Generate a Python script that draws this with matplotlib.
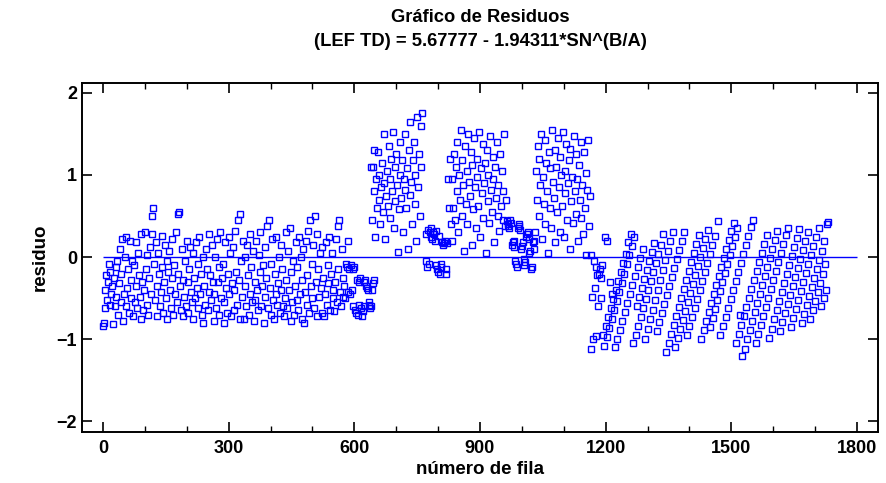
import numpy as np
import matplotlib
matplotlib.use("Agg")
import matplotlib.pyplot as plt
from matplotlib.ticker import MultipleLocator

# residuals in hundredths, every second row
# (start row of each block, values)
start_a = 0
resid_a = [
    -84, -80, -40, -62, -22, -52, -30, -8, -58, -18, -45, -35,
    -81, -25, -60, -12, -48, -5, -70, -32, 10, -55, -20, 22,
    -78, -45, 0, -60, 25, -38, -15, -68, 20, -50, -28, -5,
    -72, -10, -55, 18, -35, -62, 5, -22, -48, 28, -75, -30,
    -65, -40, 30, -15, -58, 2, -70, -25, 12, -45, 50, 28,
    60, -8, -52, 18, -35, -72, 5, -20, -60, -42, 26, -12,
    -68, -30, 15, -50, -5, -75, -18, 8, -40, -62, 22, -25,
    -70, -10, -45, 30, -55, 52, -20, 55, -35, -65, 10, -28,
    -72, -48, -5, -60, 20, -30, -68, -15, 12, -42, -55, 5,
    -75, -25, -50, 18, -38, -62, -8, 25, -45, -20, -70, 0,
    -80, -35, -58, 10, -15, -65, 28, -42, -22, -52, 15, -30,
    -78, -45, 0, -62, 22, -30, -70, -12, 30, -50, -25, -8,
    -80, -55, 18, -38, -68, -20, 25, -45, 5, -72, -32, 12,
    -65, -40, 32, -18, -58, 45, -28, 52, -75, -5, -48, 20,
    -76, -35, 0, -60, 15, -22, -70, -45, 28, -12, -55, 8,
    -78, -30, -52, 20, -40, -65, 2, -18, 30, -60, -35, -10,
    -80, -48, 12, -25, 38, -62, 45, -38, -8, -70, 22, -52,
    -75, -20, -45, 25, -58, -32, 0, -68, 15, -40, -15, -60,
    -72, -50, 30, -28, -62, 8, -40, 35, -78, -18, -55, -5,
    -70, -35, 18, -52, -12, -65, 25, -45, 0, -75, -28, 10,
    -80, -42, 20, -58, -22, 32, -68, 45, -35, -8, -50, 15,
    -62, 50, -30, 28, -72, -15, -48, 5, -38, -68, 12, -25,
    -72, -45, 18, -58, -10, -32, 25, -65, -20, 5, -50, -40,
    -66, -30, 22, -55, 38, -15, 45, -42, -60, 10, -25, -48,
    -35, -50,
]

start_b = 580
resid_b = [
    -8, -12, 20, -43, -15, -45, -10, -40, -14, -60, -12, -65,
    -68, -28, -70, -30, -58, -25, -62, -72, -66, -60, -30, -28,
    -35, -38, -40, -55, -58, -62, -60, -40, -32, -28,
]

start_c = 640
resid_c = [
    110, 45, 110, 80, 130, 25, 95, 60, 128, 70, 100, 40, 85,
    115, 55, 150, 90, 22, 75, 105, 62, 135, 48, 95, 120,
    80, 152, 35, 110, 68, 125, 88, 6, 58, 100, 140, 72,
    118, 30, 95, 82, 150, 60, 108, 10, 130, 76, 165, 92,
    40, 118, 140, 65, 100, 20, 170, 85, 125, 50, 160, 110, 176,
]

start_d = 770
resid_d = [
    -5, 28, -12, 33, -8, 30, 25, 35, 22, 30, 28, 20,
    -10, 32, -15, -18, 26, -20, -12, -8, 18, 15, 17, 20,
    -14, -20, 17, 95, 60, 120, 40,
]

start_e = 832
resid_e = [
    20, 95, 60, 125, 45, 110, 80, 140, 30, 100, 70, 155,
    50, 118, 88, 8, 135, 65, 105, 40, 150, 92, 75, 128,
    15, 112, 58, 145, 85, 35, 120, 98, 62, 152, 25, 108,
    78, 138, 48, 90, 115, 5, 130, 68, 100, 42, 148, 82,
    55, 122, 95, 18, 110, 72, 140, 50, 88, 32, 125, 62,
    105, 45, 80, 150, 38, 70,
]

start_f = 964
resid_f = [
    44, 40, 38, 35, 45, 42, 15, 18, 12, 20, -5, -8,
    -12, 35, 38, 40, 33, 10, 14, 18, -2, -10, -6, 25,
    28, 30, 22, 5, 8, -15, -12, 18, 20, 10,
]

start_g = 1032
resid_g = [
    30, 105, 70, 135, 50, 120, 88, 150, 22, 98, 65, 142,
    40, 115, 80, 5, 128, 60, 108, 35, 155, 92, 72, 130,
    18, 110, 55, 145, 85, 30, 122, 100, 62, 152, 25, 105,
    78, 138, 45, 90, 118, 10, 132, 68, 98, 42, 148, 80,
    52, 125, 95, 20, 112, 70, 140, 48, 88, 28, 128, 60,
    102, 3, 82, 142, 38, 75,
]

start_h = 1164
resid_h = [
    -112, 2, -48, -100, -5, -38, -96, -12, -22, -60, -20, -15, -50, -25, -10,
    -95, -108, 25, -84, -97, 20, -73, -86, -30, -62, -75, -45, -51, -64, -110,
    -40, -53, -100, -29, -42, -89, -18, -31, -78, -7, -20, -67, 4, -9, -56,
    18, 2, -45, 28, 13, -34, -105, 24, -23, -95, -60, -12, -84, -49, -1,
    -73, -38, 10, -62, -27, -100, -51, -16, -88, -40, -5, -76, -29, 6, -64,
    -18, 17, -52, -7, -90, -40, 4, -79, -28, 15, -68, -16, 28, -57, -4,
    -116, -46, 8, -105, -35, 19, -94, -24, 30, -83, -13, -110, -72, -2, -99,
    -61, 9, -88, -50, 20, -77, -39, 31, -66, -28, -95, -55, -17, -84, -44,
    -6, -73, -33, 5, -62, -22, 16, -51, -11, 27, -40, 0, -100, -29, 11,
    -89, -18, 22, -78, -7, 33, -67, 4, -85, -56, 15, -74, -45, 26, -63,
    -34, -52, 44, -23, -41, -95, -12, -30, -84, -1, -19, -73, 10, -8, -62,
    21, 3, -51, 32, 14, -40, 42, 25, -29, -105, 36, -18, -94, -70, -7,
    -83, -120, 4, -72, -112, 15, -61, -100, 26, -50, -89, 37, -39, -78, 45,
    -28, -67, -105, -17, -56, -94, -6, -45, -83, 5, -34, -72, 16, -23, -61,
    27, -12, -50, -98, -1, -39, -87, 10, -28, -76, 21, -17, -65, 32, -6,
    -54, -90, 5, -43, -79, 16, -32, -68, 27, -21, -57, 35, -10, -46, -85,
    1, -35, -74, 12, -24, -63, 23, -13, -52, 34, -2, -41, -80, 9, -30,
    -69, 20, -19, -58, 31, -8, -47, -75, 3, -36, -64, 14, -25, -53, 25,
    -14, -42, 36, -3, -31, -60, 8, -20, -50, 19, -9, -40, 40, 43,
]

blocks = [
    (start_a, resid_a), (start_b, resid_b), (start_c, resid_c), (start_d, resid_d),
    (start_e, resid_e), (start_f, resid_f), (start_g, resid_g), (start_h, resid_h),
]

xs = np.concatenate([start + 2 * np.arange(len(v)) for start, v in blocks])
ys = np.concatenate([np.array(v) / 100.0 for _, v in blocks])

plt.rcParams["font.family"] = ["Liberation Sans", "DejaVu Sans"]
plt.rcParams["font.weight"] = "bold"

fig = plt.figure(figsize=(8.86, 4.83), dpi=100)
ax = fig.add_axes([82 / 886, 1 - 432 / 483, (878 - 82) / 886, (432 - 83) / 483])

blue = "#0000ff"
ax.hlines(0, 0, 1800, color=blue, lw=1.0, zorder=1)
ax.plot(xs, ys, ls="none", marker="s", ms=4.2, mfc="none", mec=blue, mew=1.0, zorder=2)

ax.set_xlim(-50, 1850)
ax.set_ylim(-2.13, 2.12)
ax.xaxis.set_major_locator(MultipleLocator(300))
ax.xaxis.set_minor_locator(MultipleLocator(100))
ax.yaxis.set_major_locator(MultipleLocator(1))
ax.tick_params(which="both", direction="in", top=True, right=True, labelsize=13)
ax.tick_params(which="major", length=7, width=1.2)
ax.tick_params(which="minor", length=4, width=1.0)
ax.tick_params(axis="x", pad=6)
for sp in ax.spines.values():
    sp.set_linewidth(1.4)
for lab in ax.get_xticklabels() + ax.get_yticklabels():
    lab.set_fontweight("bold")

ax.set_xlabel("número de fila", fontsize=13.5, fontweight="bold", labelpad=3)
ax.set_ylabel("residuo", fontsize=13.5, fontweight="bold", labelpad=6)

fig.text(480 / 886, 1 - 17 / 483, "Gráfico de Residuos", ha="center", va="center",
         fontsize=13.2, fontweight="bold")
fig.text(480 / 886, 1 - 42 / 483, "(LEF TD) = 5.67777 - 1.94311*SN^(B/A)", ha="center",
         va="center", fontsize=13.2, fontweight="bold")

fig.savefig("out.png", dpi=100)
